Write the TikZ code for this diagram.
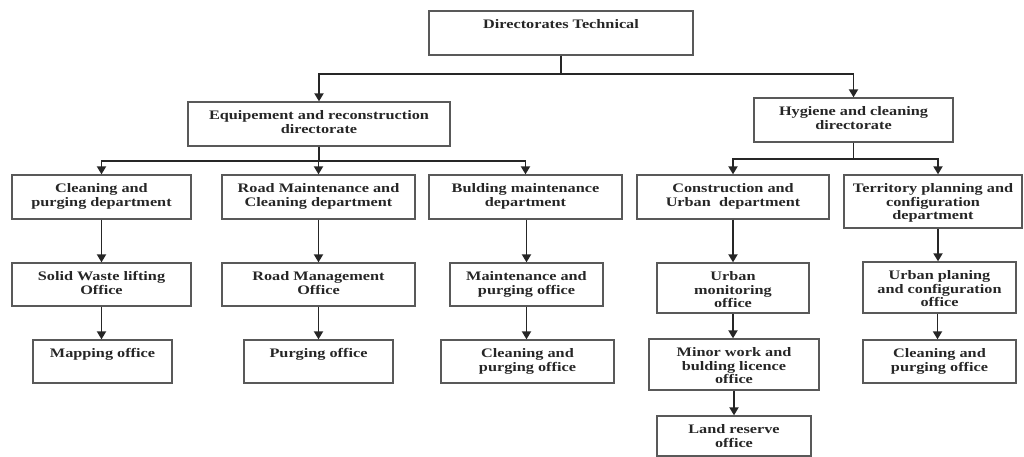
\documentclass[tikz,border=0pt]{standalone}
\usepackage{fontspec}
\setmainfont{Liberation Serif}[FakeStretch=1.25]
\usetikzlibrary{arrows.meta}

\begin{document}
\begin{tikzpicture}[x=1pt,y=-1pt,
  box/.style={draw=black!65,line width=1.3pt,inner sep=0pt},
  lbl/.style={anchor=north,align=center,inner sep=0pt,yshift=-9pt,text=black!85,font=\fontsize{13}{13.5}\selectfont\bfseries},
  conn/.style={draw=black!85,line width=1.8pt,-{Triangle[length=8pt,width=9pt]}}]
\useasboundingbox (0,0) rectangle (1024,457);
% directorates
\node[box,minimum width=264pt,minimum height=44pt,label={[lbl]north:Directorates Technical}] (dt) at (561,33) {};
\node[box,minimum width=262pt,minimum height=44pt,label={[lbl]north:Equipement and reconstruction\\directorate}] (eq) at (319,124) {};
\node[box,minimum width=199pt,minimum height=44pt,label={[lbl]north:Hygiene and cleaning\\directorate}] (hy) at (853.5,120) {};
% departments
\node[box,minimum width=179pt,minimum height=44pt,label={[lbl]north:Cleaning and\\purging department}] (cpd) at (101.5,197) {};
\node[box,minimum width=193pt,minimum height=44pt,label={[lbl]north:Road Maintenance and\\Cleaning department}] (rmd) at (318.5,197) {};
\node[box,minimum width=193pt,minimum height=44pt,label={[lbl]north:Bulding maintenance\\department}] (bmd) at (525.5,197) {};
\node[box,minimum width=192pt,minimum height=44pt,label={[lbl]north:Construction and\\Urban\ \ department}] (cud) at (733,197) {};
\node[box,minimum width=178pt,minimum height=53pt,label={[lbl]north:Territory planning and\\configuration\\department}] (tpd) at (933,201.5) {};
% offices
\node[box,minimum width=179pt,minimum height=43pt,label={[lbl]north:Solid Waste lifting\\Office}] (swo) at (101.5,284.5) {};
\node[box,minimum width=193pt,minimum height=43pt,label={[lbl]north:Road Management\\Office}] (rmo) at (318.5,284.5) {};
\node[box,minimum width=153pt,minimum height=43pt,label={[lbl]north:Maintenance and\\purging office}] (mpo) at (526.5,284.5) {};
\node[box,minimum width=152pt,minimum height=50pt,label={[lbl]north:Urban\\monitoring\\office}] (umo) at (733,288) {};
\node[box,minimum width=153pt,minimum height=51pt,label={[lbl]north:Urban planing\\and configuration\\office}] (upo) at (939.5,287.5) {};
\node[box,minimum width=139pt,minimum height=43pt,label={[lbl]north:Mapping office}] (mao) at (102.5,361.5) {};
\node[box,minimum width=149pt,minimum height=43pt,label={[lbl]north:Purging office}] (puo) at (318.5,361.5) {};
\node[box,minimum width=173pt,minimum height=43pt,label={[lbl]north:Cleaning and\\purging office}] (cpo) at (527.5,361.5) {};
\node[box,minimum width=170pt,minimum height=51pt,label={[lbl]north:Minor work and\\bulding licence\\office}] (mwo) at (734,364.5) {};
\node[box,minimum width=153pt,minimum height=43pt,label={[lbl]north:Cleaning and\\purging office}] (cpr) at (939.5,361.5) {};
\node[box,minimum width=154pt,minimum height=40pt,label={[lbl]north:Land reserve\\office}] (lro) at (734,436) {};
% branches
\path[conn] (dt.south) -- ++(0,18) -| (eq.north);
\path[conn] (dt.south) -- ++(0,18) -| (hy.north);
\path[conn] (eq.south) -- ++(0,14) -| (cpd.north);
\path[conn] (eq.south) -- ++(0,14) -| (rmd.north);
\path[conn] (eq.south) -- ++(0,14) -| (bmd.north);
\path[conn] (hy.south) -- ++(0,16) -| (cud.north);
\path[conn] (hy.south) -- ++(0,16) -| ([xshift=5pt]tpd.north);
% columns
\path[conn] (cpd.south) -- (cpd.south |- swo.north);
\path[conn] (swo.south) -- (swo.south |- mao.north);
\path[conn] (rmd.south) -- (rmd.south |- rmo.north);
\path[conn] (rmo.south) -- (rmo.south |- puo.north);
\path[conn] (mpo.north |- bmd.south) -- (mpo.north);
\path[conn] (mpo.south) -- (mpo.south |- cpo.north);
\path[conn] (cud.south) -- (cud.south |- umo.north);
\path[conn] (umo.south) -- (umo.south |- mwo.north);
\path[conn] (mwo.south) -- (mwo.south |- lro.north);
\path[conn] ([xshift=5pt]tpd.south) -- ([xshift=5pt]tpd.south |- upo.north);
\path[conn] ([xshift=-2pt]upo.south) -- ([xshift=-2pt]upo.south |- cpr.north);
\end{tikzpicture}
\end{document}
